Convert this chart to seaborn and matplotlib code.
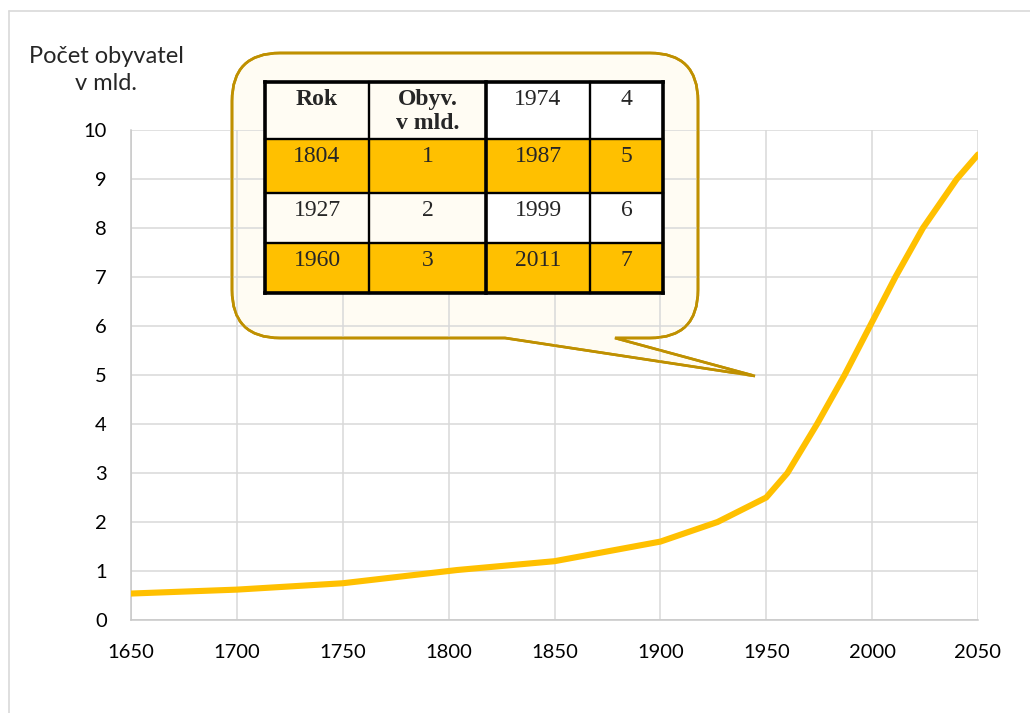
import matplotlib
matplotlib.use("Agg")
import matplotlib.pyplot as plt
import seaborn as sns
import pandas as pd
from matplotlib.path import Path
from matplotlib.patches import PathPatch, Rectangle
from matplotlib.lines import Line2D
from matplotlib.transforms import Affine2D

# ---- data ----
years = [1650, 1700, 1750, 1800, 1804, 1850, 1900, 1927, 1950, 1960,
         1974, 1987, 1999, 2011, 2024, 2040, 2050]
population = [0.54, 0.62, 0.75, 1.0, 1.02, 1.2, 1.6, 2.0, 2.5, 3.0,
              4.0, 5.0, 6.0, 7.0, 8.0, 9.0, 9.5]
x_ticks = [1650, 1700, 1750, 1800, 1850, 1900, 1950, 2000, 2050]
y_ticks = list(range(0, 11))
y_label = "Počet obyvatel\nv mld."
table_header = ["Rok", "Obyv.\nv mld."]
milestone_years = [1804, 1927, 1960, 1974, 1987, 1999, 2011]
milestone_values = [1, 2, 3, 4, 5, 6, 7]

GOLD = "#FFC000"
DARK_GOLD = "#BF9000"
CREAM = "#FFFCF3"
GRID = "#D9D9D9"

W, H = 1030, 713
sns.set_theme(style="white")
plt.rcParams["font.family"] = ["Lato", "DejaVu Sans"]

fig = plt.figure(figsize=(W / 100, H / 100), dpi=100)
ax = fig.add_axes([131 / W, 1 - 620 / H, (978 - 131) / W, (620 - 130) / H])

df = pd.DataFrame({"Rok": years, "Pop": population})
sns.lineplot(data=df, x="Rok", y="Pop", ax=ax, color=GOLD, linewidth=4.4,
             zorder=3, solid_joinstyle="round")

ax.set_xlim(1650, 2050)
ax.set_ylim(0, 10)
ax.set_xticks(x_ticks)
ax.set_yticks(y_ticks)
ax.set_xlabel("")
ax.set_ylabel("")
ax.set_axisbelow(True)
ax.grid(True, color=GRID, linewidth=1.1)
for s in ["top", "right"]:
    ax.spines[s].set_visible(False)
for s in ["left", "bottom"]:
    ax.spines[s].set_color("#C8C8C8")
    ax.spines[s].set_linewidth(1.1)
ax.tick_params(axis="both", length=0, labelsize=14.5, colors="#000000")
ax.tick_params(axis="y", pad=17.5)
ax.tick_params(axis="x", pad=17)

fig.text(106 / W, 1 - 70 / H, y_label, ha="center", va="center",
         fontsize=17, linespacing=1.3)

# pixel (top-left origin) -> figure transform
px = Affine2D().scale(1 / W, -1 / H).translate(0, 1) + fig.transFigure

# outer chart border (partially visible)
fig.add_artist(Line2D([9, 9], [11, H], transform=px, color=GRID, lw=1.2))
fig.add_artist(Line2D([9, W], [11, 11], transform=px, color=GRID, lw=1.2))

# ---- callout balloon ----
x0, x1, y0, y1, r = 232, 698, 53, 338, 48
bx0, bx1, tip = 505, 615, (755, 376)
verts = [(x0 + r, y0), (x1 - r, y0), (x1, y0), (x1, y0 + r),
         (x1, y1 - r), (x1, y1), (x1 - r, y1),
         (bx1, y1), tip, (bx0, y1),
         (x0 + r, y1), (x0, y1), (x0, y1 - r),
         (x0, y0 + r), (x0, y0), (x0 + r, y0), (x0 + r, y0)]
codes = [Path.MOVETO, Path.LINETO, Path.CURVE3, Path.CURVE3,
         Path.LINETO, Path.CURVE3, Path.CURVE3,
         Path.LINETO, Path.LINETO, Path.LINETO,
         Path.LINETO, Path.CURVE3, Path.CURVE3,
         Path.LINETO, Path.CURVE3, Path.CURVE3, Path.CLOSEPOLY]
balloon = PathPatch(Path(verts, codes), facecolor=CREAM, edgecolor=DARK_GOLD,
                    linewidth=1.9, transform=px, zorder=0.3,
                    joinstyle="miter")
ax.add_patch(balloon)
balloon.set_clip_on(False)
outline = PathPatch(Path(verts, codes), facecolor="none", edgecolor=DARK_GOLD,
                    linewidth=1.9, transform=px, zorder=2, joinstyle="miter")
ax.add_patch(outline)
outline.set_clip_on(False)

# ---- table ----
col_edges = [265, 369, 486, 590, 663]
row_edges = [82, 139, 193, 243, 293]
cells = [[table_header[0], table_header[1],
          str(milestone_years[3]), str(milestone_values[3])]]
for i in range(3):
    cells.append([str(milestone_years[i]), str(milestone_values[i]),
                  str(milestone_years[4 + i]), str(milestone_values[4 + i])])

for ri in range(4):
    for ci in range(4):
        if ri % 2 == 1:
            fc = GOLD
        else:
            fc = CREAM if ci < 2 else "white"
        fig.add_artist(Rectangle((col_edges[ci], row_edges[ri]),
                                 col_edges[ci + 1] - col_edges[ci],
                                 row_edges[ri + 1] - row_edges[ri],
                                 transform=px, facecolor=fc, edgecolor="none",
                                 zorder=5))
        bold = (ri == 0 and ci < 2)
        fig.text((col_edges[ci] + col_edges[ci + 1]) / 2 / W,
                 1 - (row_edges[ri] + 7) / H, cells[ri][ci],
                 ha="center", va="top", fontsize=17,
                 family="Liberation Serif",
                 fontweight="bold" if bold else "normal",
                 linespacing=1.2, zorder=7)

# table lines
for k, yv in enumerate(row_edges):
    lw = 2.6 if k in (0, len(row_edges) - 1) else 1.7
    fig.add_artist(Line2D([col_edges[0], col_edges[-1]], [yv, yv],
                          transform=px, color="black", lw=lw, zorder=6,
                          solid_capstyle="projecting"))
for k, xv in enumerate(col_edges):
    lw = 2.6 if k in (0, 2, len(col_edges) - 1) else 1.7
    fig.add_artist(Line2D([xv, xv], [row_edges[0], row_edges[-1]],
                          transform=px, color="black", lw=lw, zorder=6,
                          solid_capstyle="projecting"))

fig.savefig("out.png", dpi=100)
